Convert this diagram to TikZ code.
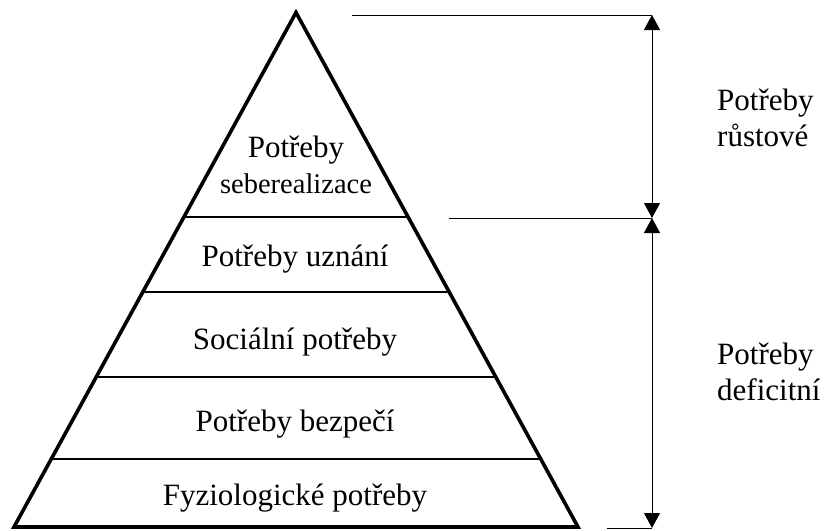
\documentclass[tikz,border=0pt]{standalone}
\usepackage{fontspec}
\setmainfont{Liberation Serif}
\usetikzlibrary{arrows.meta,calc}
\begin{document}
\begin{tikzpicture}[x=1pt,y=-1pt,
  pyr/.style={line width=3.6pt,line join=miter},
  tier/.style={line width=2.8pt},
  dim/.style={line width=1pt},
  dimarrow/.style={line width=1pt,{Triangle[length=15pt,width=16pt]}-{Triangle[length=15pt,width=16pt]}},
  lbl/.style={font=\fontsize{31}{34}\selectfont,inner sep=0pt},
  side/.style={font=\fontsize{31}{36}\selectfont,inner sep=0pt,align=left,anchor=west}]
\useasboundingbox (0,0) rectangle (824,530);
% pyramid
\coordinate (apex) at (296,12.5);
\coordinate (bl) at (14,527);
\coordinate (br) at (578,527);
\draw[pyr] (apex) -- (bl) -- (br) -- cycle;
\foreach \t/\n in {0.3975/a,0.5433/b,0.7085/c,0.8678/d}{
  \coordinate (l\n) at ($(apex)!\t!(bl)$);
  \coordinate (r\n) at ($(apex)!\t!(br)$);
  \draw[tier] (l\n) -- (r\n);
}
% texts
\node[lbl] (t1a) at (296,150) {Potřeby};
\node[lbl,font=\fontsize{28.5}{32}\selectfont] (t1b) at (296,184) {seberealizace};
\node[lbl] (t2) at (295,259) {Potřeby uznání};
\node[lbl] (t3) at (295,342) {Sociální potřeby};
\node[lbl] (t4) at (295,424) {Potřeby bezpečí};
\node[lbl] (t5) at (295,498) {Fyziologické potřeby};
% dimension lines
\coordinate (d0) at (652,15);
\coordinate (d1) at (652,218);
\coordinate (d2) at (652,528);
\coordinate (h0) at (352,15);
\coordinate (h1) at (449,218);
\coordinate (h2) at (607,528);
\draw[dim] (h0) -- (d0);
\draw[dim] (h1) -- (d1);
\draw[dim] (h2) -- (d2);
\draw[dimarrow] (d0) -- (d1);
\draw[dimarrow] (d1) -- (d2);
\node[side] (g) at (717,118) {Potřeby\\růstové};
\node[side] (f) at (717,372) {Potřeby\\deficitní};
\end{tikzpicture}
\end{document}
